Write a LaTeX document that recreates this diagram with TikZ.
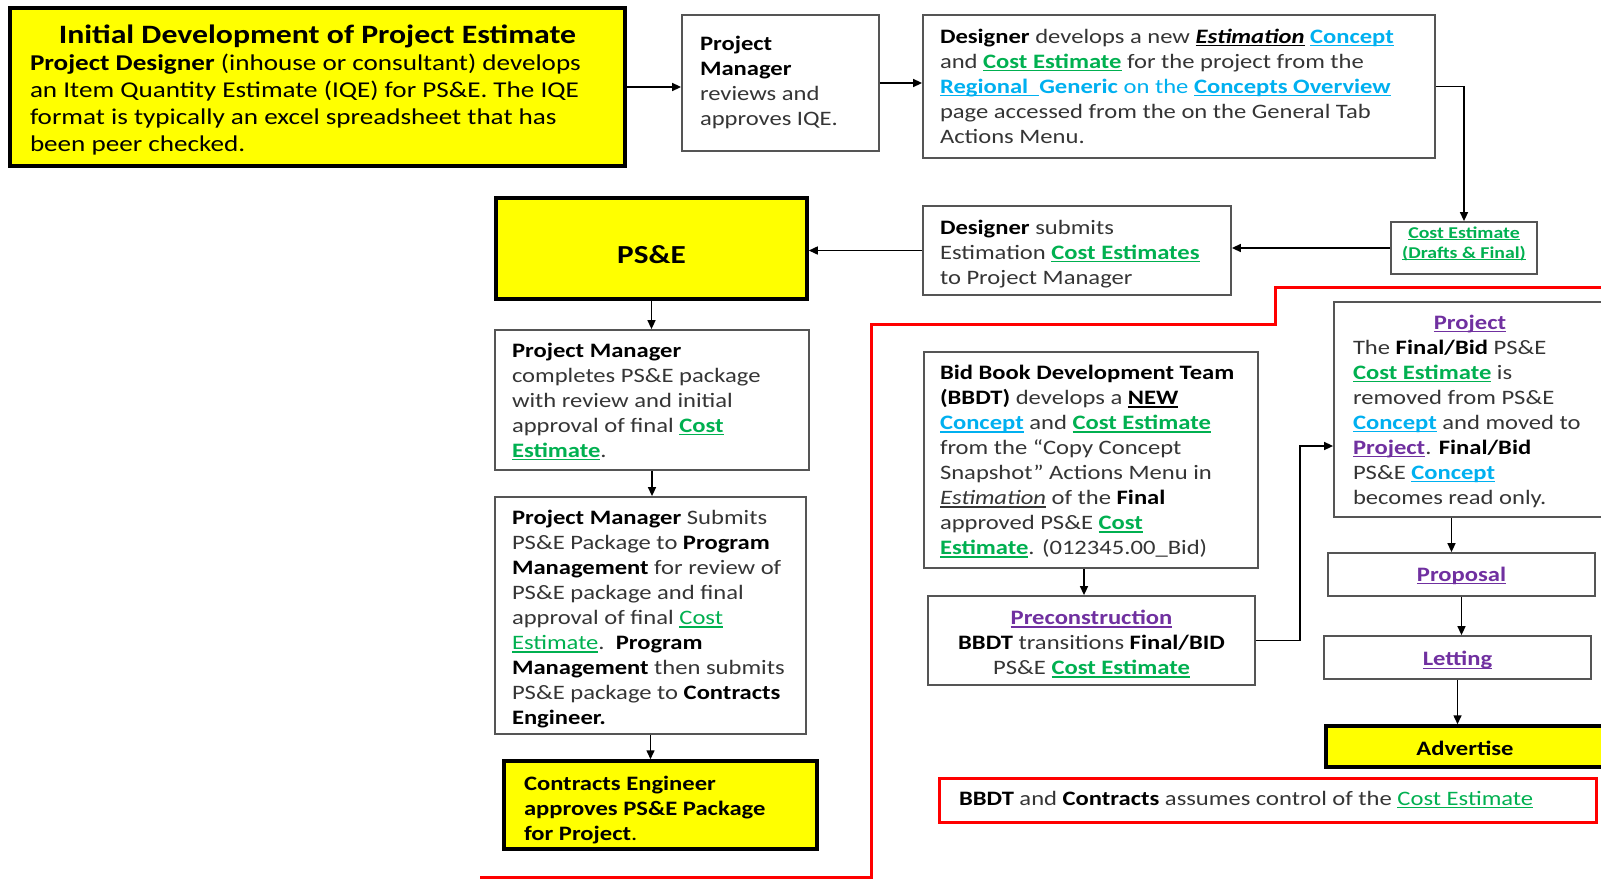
\documentclass[tikz,border=0pt]{standalone}
\usepackage{fontspec}
\setmainfont{Carlito}[FakeStretch=1.2]
\usetikzlibrary{arrows.meta}
\definecolor{lgreen}{HTML}{00B050}
\definecolor{lblue}{HTML}{00B0F0}
\definecolor{lpurple}{HTML}{7030A0}
\definecolor{txt}{HTML}{353535}
\definecolor{bordergray}{HTML}{555555}
\definecolor{yfill}{HTML}{FFFF00}
\newcommand\ulin[1]{{\setbox0=\hbox{#1}\rlap{\rule[-0.15em]{\wd0}{0.07em}}\box0}}
\newcommand\gce[1]{{\color{lgreen}\bfseries\ulin{#1}}}
\newcommand\gcn[1]{{\color{lgreen}\ulin{#1}}}
\newcommand\bcon[1]{{\color{lblue}\bfseries\ulin{#1}}}
\newcommand\pur[1]{{\color{lpurple}\bfseries\ulin{#1}}}
\newcommand\B[1]{{\color{black}\bfseries #1}}
\newcommand\dn[2]{\raisebox{-#1}[\height][\depth]{#2}}
\newcommand\tl[2]{\makebox[#1][l]{\begin{tabular}{@{}l@{}}#2\end{tabular}}}
\newcommand\tc[1]{\begin{tabular}{@{}c@{}}#1\end{tabular}}
\begin{document}
\begin{tikzpicture}[x=1pt,y=-1pt,
  wbox/.style={draw=bordergray, line width=1.8pt, fill=white, inner sep=0pt, text=txt,
    font=\fontsize{20.5}{25}\selectfont},
  ybox/.style={draw=black, line width=3.5pt, fill=yfill, inner sep=0pt, text=black,
    font=\fontsize{20.5}{25}\selectfont},
  rbox/.style={draw=red, line width=3pt, fill=white, inner sep=0pt, text=txt,
    font=\fontsize{20.5}{25}\selectfont},
  arr/.style={-{Triangle[length=9pt,width=8pt]}, line width=1.5pt, black}]
\useasboundingbox (0,0) rectangle (1601,879);
\fill[white] (0,0) rectangle (1601,879);

% red boundary
\draw[red, line width=3pt] (480,877) -| (871,324) -| (1275,287) -- (1610,287);

% top row
\node[ybox, minimum width=615, minimum height=158, font=\fontsize{22.6}{27}\selectfont] (init) at (317.5,87)
 {\dn{5pt}{\tl{575pt}{\makebox[575pt][c]{\fontsize{26.5}{28}\selectfont\bfseries Initial Development of Project Estimate}\\
  \B{Project Designer} (inhouse or consultant) develops\\
  an Item Quantity Estimate (IQE) for PS\&E. The IQE\\
  format is typically an excel spreadsheet that has\\
  been peer checked.}}};

\node[wbox, minimum width=197, minimum height=136] (pm) at (780.5,83)
 {\tl{161pt}{\B{Project}\\ \B{Manager}\\ reviews and\\ approves IQE.}};

\node[wbox, minimum width=512, minimum height=143] (des) at (1179,86.5)
 {\dn{1.5pt}{\tl{478pt}{\B{Designer} develops a new \B{\ulin{\itshape Estimation}} \bcon{Concept}\\
  and \gce{Cost Estimate} for the project from the\\
  \bcon{Regional\ \ }{\color{lblue}\bfseries Generic} {\color{lblue}on the} \bcon{Concepts Overview}\\
  page accessed from the on the General Tab\\
  Actions Menu.}}};

\node[wbox, minimum width=146, minimum height=52, font=\fontsize{16.5}{20}\selectfont] (ce) at (1464,248)
 {\dn{-4pt}{\tc{\gce{Cost Estimate}\\ \gce{(Drafts \& Final)}}}};

\node[wbox, minimum width=308, minimum height=89] (sub) at (1077,250.5)
 {\dn{3.5pt}{\tl{274pt}{\B{Designer} submits\\ Estimation \gce{Cost Estimates}\\ to Project Manager}}};

\node[ybox, minimum width=311, minimum height=101, font=\fontsize{26}{30}\selectfont\bfseries] (pse) at (651.5,248.5) {\dn{6pt}{PS\&E}};

% left column
\node[wbox, minimum width=314, minimum height=140] (pmc) at (652,400)
 {\dn{2pt}{\tl{280pt}{\B{Project Manager}\\ completes PS\&E package\\ with review and initial\\ approval of final \gce{Cost}\\ \gce{Estimate}.}}};

\node[wbox, minimum width=311, minimum height=237] (pms) at (650.5,615.5)
 {\dn{4pt}{\tl{277pt}{\B{Project Manager} Submits\\ PS\&E Package to \B{Program}\\ \B{Management} for review of\\
  PS\&E package and final\\ approval of final \gcn{Cost}\\ \gcn{Estimate}.\ \ \B{Program}\\
  \B{Management} then submits\\ PS\&E package to \B{Contracts}\\ \B{Engineer.}}}};

\node[ybox, minimum width=313, minimum height=88] (cen) at (660.5,805)
 {\dn{5pt}{\tl{273pt}{\B{Contracts Engineer}\\ \B{approves PS\&E Package}\\ \B{for Project}.}}};

% middle column
\node[wbox, minimum width=334, minimum height=216] (bbdt) at (1091,460)
 {\dn{2pt}{\tl{302pt}{\B{Bid Book Development Team}\\ \B{(BBDT)} develops a \B{\ulin{NEW}}\\
  \bcon{Concept} and \gce{Cost Estimate}\\ from the “Copy Concept\\ Snapshot” Actions Menu in\\
  \ulin{\itshape Estimation} of the \B{Final}\\ approved PS\&E \gce{Cost}\\ \gce{Estimate}. (012345.00\_Bid)}}};

\node[wbox, minimum width=327, minimum height=89] (pre) at (1091.5,640.5)
 {\dn{4pt}{\tc{\pur{Preconstruction}\\ \B{BBDT} transitions \B{Final/BID}\\ PS\&E \gce{Cost Estimate}}}};

% right column
\node[wbox, minimum width=291, minimum height=215] (proj) at (1479.5,409.5)
 {\dn{2pt}{\tl{253pt}{\makebox[234pt][c]{\pur{Project}}\\ The \B{Final/Bid} PS\&E\\ \gce{Cost Estimate} is\\
  removed from PS\&E\\ \bcon{Concept} and moved to\\ \pur{Project}. \B{Final/Bid}\\
  PS\&E \bcon{Concept}\\ becomes read only.}}};

\node[wbox, minimum width=267, minimum height=43] (prop) at (1461.5,574.5) {\dn{1pt}{\pur{Proposal}}};
\node[wbox, minimum width=267, minimum height=43] (let) at (1457.5,657.5) {\dn{3pt}{\pur{Letting}}};
\node[ybox, minimum width=278, minimum height=41, font=\fontsize{20.5}{25}\selectfont\bfseries] (adv) at (1465,746.5) {\dn{2pt}{Advertise}};

\node[rbox, minimum width=657, minimum height=44] (ctl) at (1267.5,800)
 {\tl{617pt}{\B{BBDT} and \B{Contracts} assumes control of the \gcn{Cost Estimate}}};

% connectors
\draw[arr] (init.east) -- (init.east -| pm.west);
\draw[arr] (pm.east) -- (pm.east -| des.west);
\draw[arr] (des.east) -| (ce.north);
\draw[arr] (ce.west) -- (ce.west -| sub.east);
\draw[arr] (sub.west) -- (sub.west -| pse.east);
\draw[arr] (pse.south) -- (pse.south |- pmc.north);
\draw[arr] (pmc.south) -- (pmc.south |- pms.north);
\draw[arr] (pms.south) -- (pms.south |- cen.north);
\draw[arr] ([xshift=-7pt]bbdt.south) -- ([xshift=-7pt]bbdt.south |- pre.north);
\draw[arr] (pre.east) -- ++(44,0) |- ([yshift=-36.5pt]proj.west);
\draw[arr] ([xshift=-28pt]proj.south) -- ([xshift=-28pt]proj.south |- prop.north);
\draw[arr] (prop.south) -- (prop.south |- let.north);
\draw[arr] (let.south) -- (let.south |- adv.north);
\end{tikzpicture}
\end{document}
